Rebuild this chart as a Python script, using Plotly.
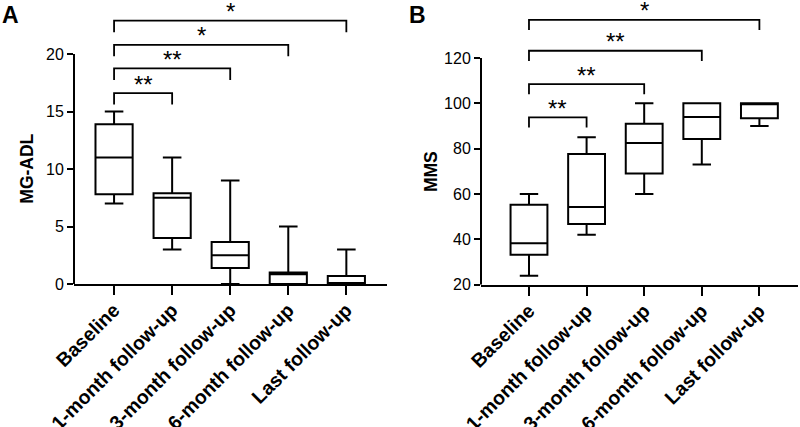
import plotly.graph_objects as go

categories = ["Baseline", "1-month follow-up", "3-month follow-up", "6-month follow-up", "Last follow-up"]

# Panel A: MG-ADL (box stats)
adl_lower = [7, 3, 0, 0, 0]
adl_q1 = [7.8, 4.0, 1.4, 0, 0]
adl_median = [11, 7.5, 2.5, 0.85, 0]
adl_q3 = [13.9, 7.9, 3.65, 1.0, 0.7]
adl_upper = [15, 11, 9, 5, 3]

# Panel B: MMS
mms_lower = [24, 42, 60, 73, 90]
mms_q1 = [33.2, 46.8, 69, 84.3, 93.4]
mms_median = [38.3, 54.3, 82.5, 94, 100]
mms_q3 = [55.3, 77.7, 91, 100, 100]
mms_upper = [60, 85, 100, 100, 100]

# significance brackets: compared group index (vs Baseline), bracket height, label
adl_pairs = [1, 2, 3, 4]
adl_bracket_y = [16.6, 18.75, 20.8, 22.9]
adl_stars = ["**", "**", "*", "*"]
mms_pairs = [1, 2, 3, 4]
mms_bracket_y = [93.8, 108.5, 123.2, 136.8]
mms_stars = ["**", "**", "**", "*"]

adl_ticks = [0, 5, 10, 15, 20]
mms_ticks = [20, 40, 60, 80, 100, 120]

FONT = "Arial, Liberation Sans, sans-serif"
W, H = 800, 427

fig = go.Figure()

def add_box(xa, ya, lo, q1, med, q3, hi):
    fig.add_trace(go.Box(
        x=categories, q1=q1, median=med, q3=q3, lowerfence=lo, upperfence=hi,
        xaxis=xa, yaxis=ya, width=0.64, whiskerwidth=0.5,
        line=dict(color="black", width=2), fillcolor="white",
        boxpoints=False, showlegend=False, hoverinfo="skip"))

add_box("x", "y", adl_lower, adl_q1, adl_median, adl_q3, adl_upper)
add_box("x2", "y2", mms_lower, mms_q1, mms_median, mms_q3, mms_upper)

annotations = []

def add_brackets(xa, ya, pairs, ys, stars, drop, yref):
    for j, yb, s in zip(pairs, ys, stars):
        fig.add_trace(go.Scatter(
            x=[categories[0], categories[0], categories[j], categories[j]],
            y=[yb - drop, yb, yb, yb - drop],
            mode="lines", line=dict(color="black", width=1.8),
            xaxis=xa, yaxis=ya, showlegend=False, hoverinfo="skip"))
        annotations.append(dict(
            x=j / 2, y=yb, xref=xa, yref=yref, text=s, showarrow=False,
            xanchor="center", yanchor="middle", yshift=9,
            font=dict(family=FONT, size=24, color="black")))

add_brackets("x", "y", adl_pairs, adl_bracket_y, adl_stars, 1.0, "y")
add_brackets("x2", "y2", mms_pairs, mms_bracket_y, mms_stars, 4.5, "y2")

# axis titles
annotations.append(dict(x=26.7 / W, y=10, xref="paper", yref="y", text="<b>MG-ADL</b>",
                        textangle=-90, showarrow=False, xanchor="center", yanchor="middle",
                        font=dict(family=FONT, size=17.5, color="black")))
annotations.append(dict(x=431.7 / W, y=70, xref="paper", yref="y2", text="<b>MMS</b>",
                        textangle=-90, showarrow=False, xanchor="center", yanchor="middle",
                        font=dict(family=FONT, size=17.5, color="black")))
# panel letters
annotations.append(dict(x=0 / W, y=1, xref="paper", yref="paper", text="<b>A</b>",
                        showarrow=False, xanchor="left", yanchor="top",
                        font=dict(family=FONT, size=23, color="black")))
annotations.append(dict(x=407 / W, y=1, xref="paper", yref="paper", text="<b>B</b>",
                        showarrow=False, xanchor="left", yanchor="top",
                        font=dict(family=FONT, size=23, color="black")))

shapes = [
    dict(type="line", xref="x domain", x0=0, x1=0, yref="y", y0=0, y1=20,
         line=dict(color="black", width=2)),
    dict(type="line", xref="x2 domain", x0=0, x1=0, yref="y2", y0=20, y1=120,
         line=dict(color="black", width=2)),
]

xcommon = dict(type="category", showline=True, linecolor="black", linewidth=2,
               ticks="outside", ticklen=9, tickwidth=2, tickcolor="black",
               tickangle=-45, ticklabelstandoff=-4, showgrid=False, zeroline=False,
               automargin=False,
               tickfont=dict(family=FONT, size=19.5, color="black"))
ycommon = dict(showline=False, ticks="outside", ticklen=6, tickwidth=2, tickcolor="black",
               showgrid=False, zeroline=False, automargin=False,
               tickfont=dict(family=FONT, size=16, color="black"))

def ydom(bottom_px, top_px):
    return [(H - bottom_px) / H, (H - top_px) / H]

fig.update_layout(
    width=W, height=H, margin=dict(l=0, r=0, t=0, b=0, autoexpand=False),
    paper_bgcolor="white", plot_bgcolor="white",
    font=dict(family=FONT, color="black"),
    xaxis=dict(xcommon, domain=[74 / W, 387 / W], range=[-0.69, 4.70], anchor="y",
               tickprefix="<b>", ticksuffix="</b>"),
    yaxis=dict(ycommon, domain=ydom(284, 1.1), range=[0, 24.6], tickvals=adl_ticks,
               anchor="x", tickprefix="<b>", ticksuffix="</b>"),
    xaxis2=dict(xcommon, domain=[481 / W, 798 / W], range=[-0.833, 4.67], anchor="y2",
                tickprefix="<b>", ticksuffix="</b>"),
    yaxis2=dict(ycommon, domain=ydom(284.7, 1.1), range=[20, 145.1], tickvals=mms_ticks,
                anchor="x2", tickprefix="<b>", ticksuffix="</b>"),
    annotations=annotations, shapes=shapes,
)

fig.write_html("out.html", config={"displayModeBar": False, "staticPlot": True},
               post_script="document.body.style.margin='0';document.body.style.overflow='hidden';")
